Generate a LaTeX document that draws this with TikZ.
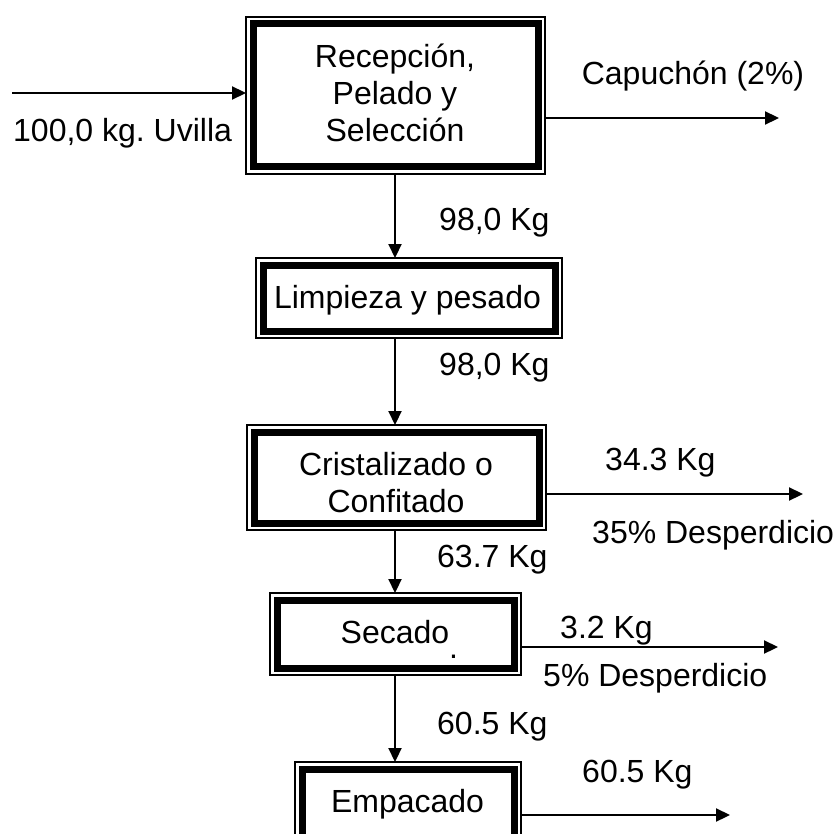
\documentclass[tikz,border=0pt]{standalone}
\usepackage{fontspec}
\setmainfont{Liberation Sans}
\usetikzlibrary{arrows.meta}
\frenchspacing
\begin{document}
\begin{tikzpicture}[x=1pt,y=-1pt,
  outerbox/.style={draw, line width=1.5pt, inner sep=0pt, outer sep=0pt},
  innerbox/.style={draw, line width=7pt, inner sep=0pt, outer sep=0pt},
  lbl/.style={font=\fontsize{32}{37}\selectfont, inner sep=0pt, anchor=base},
  lbll/.style={lbl, anchor=base west},
  arr/.style={line width=2.2pt, -{Triangle[length=14pt,width=13pt]}}]
\useasboundingbox (0,0) rectangle (834,834);
% boxes
\node[outerbox, minimum width=299pt, minimum height=157pt] (b1) at (395.5,95.5) {};
\node[innerbox, minimum width=285pt, minimum height=143pt] (b1i) at (b1) {};
\node[outerbox, minimum width=306pt, minimum height=80pt] (b2) at (409,298) {};
\node[innerbox, minimum width=292pt, minimum height=66pt] (b2i) at (b2) {};
\node[outerbox, minimum width=299pt, minimum height=105pt] (b3) at (396.5,477.5) {};
\node[innerbox, minimum width=285pt, minimum height=91pt] (b3i) at (b3) {};
\node[outerbox, minimum width=251pt, minimum height=82pt] (b4) at (395.5,634) {};
\node[innerbox, minimum width=237pt, minimum height=68pt] (b4i) at (b4) {};
\node[outerbox, minimum width=226pt, minimum height=86pt] (b5) at (408,805) {};
\node[innerbox, minimum width=212pt, minimum height=72pt] (b5i) at (b5) {};
% coordinates
\coordinate (axis) at (395,0);
\coordinate (inS) at (12,93);
\coordinate (o1) at (779,118);
\coordinate (o3) at (803,494);
\coordinate (o4) at (778,647);
\coordinate (o5) at (730,815);
% connectors
\draw[arr] (inS) -- (inS -| b1.west);
\draw[arr] (o1 -| b1.east) -- (o1);
\draw[arr] (b1.south -| axis) -- (b2.north -| axis);
\draw[arr] (b2.south -| axis) -- (b3.north -| axis);
\draw[arr] (o3 -| b3.east) -- (o3);
\draw[arr] (b3.south -| axis) -- (b4.north -| axis);
\draw[arr] (o4 -| b4.east) -- (o4);
\draw[arr] (b4.south -| axis) -- (b5.north -| axis);
\draw[arr] (o5 -| b5.east) -- (o5);
% texts
\node[lbl] (t1a) at (395,68) {Recepción,};
\node[lbl] (t1b) at (395,105) {Pelado y};
\node[lbl] (t1c) at (395,142) {Selección};
\node[lbl] (t2) at (407.5,308) {Limpieza y pesado};
\node[lbl] (t3a) at (396,475) {Cristalizado o};
\node[lbl] (t3b) at (396,512) {Confitado};
\node[lbl] (t4) at (395,643) {Secado};
\node[lbll] (t4d) at (449,658) {.};
\node[lbl] (t5) at (407.5,812) {Empacado};
\node[lbl] (lcap) at (693,85) {Capuchón (2\%)};
\node[lbll] (lin) at (13,142) {100,0 kg. Uvilla};
\node[lbll] (l12) at (439,230) {98,0 Kg};
\node[lbll] (l23) at (439,375) {98,0 Kg};
\node[lbll] (l34) at (437,567) {63.7 Kg};
\node[lbll] (l3a) at (605,470) {34.3 Kg};
\node[lbll] (l3b) at (592,543) {35\% Desperdicio};
\node[lbll] (l4a) at (560,638) {3.2 Kg};
\node[lbll] (l4b) at (543,686) {5\% Desperdicio};
\node[lbll] (l45) at (437,734) {60.5 Kg};
\node[lbll] (l5a) at (582,782) {60.5 Kg};
\end{tikzpicture}
\end{document}
